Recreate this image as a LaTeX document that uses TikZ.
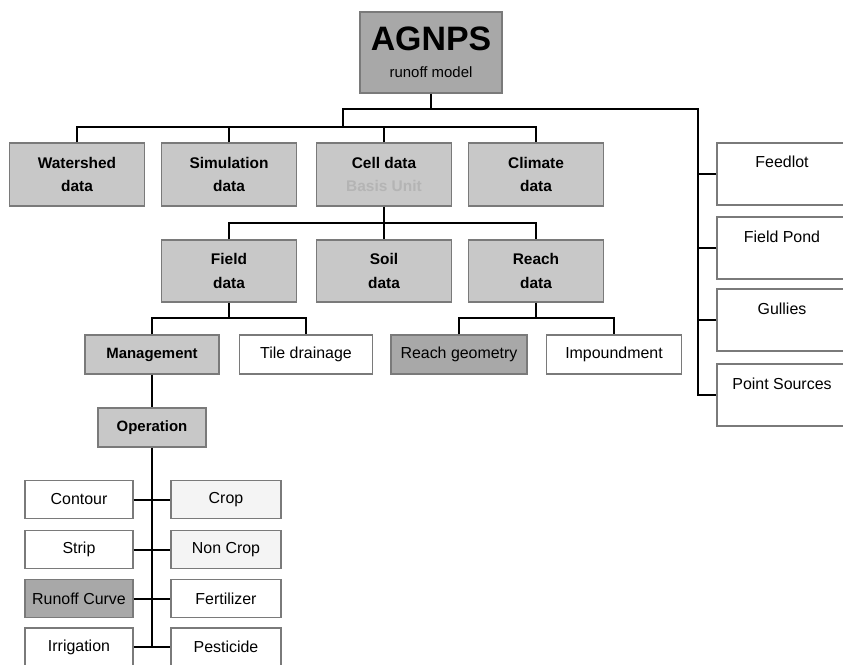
\documentclass[tikz,border=0pt]{standalone}
\usepackage{fontspec}
\setmainfont{Liberation Sans}

\definecolor{boxgray}{HTML}{C8C8C8}
\definecolor{boxdark}{HTML}{A8A8A8}
\definecolor{boxpale}{HTML}{F4F4F4}
\definecolor{edgegray}{HTML}{7A7A7A}
\definecolor{softtext}{HTML}{B4B4B4}

\tikzset{
  base/.style={draw=edgegray, line width=1.1bp, inner sep=0pt, align=center},
  databox/.style={base, fill=boxgray, minimum width=135bp, minimum height=63bp,
    font=\fontsize{15.5}{24}\selectfont\bfseries},
  itembox/.style={base, fill=white, minimum width=134bp, minimum height=39bp,
    font=\fontsize{16}{16}\selectfont},
  markbox/.style={itembox, fill=boxgray, font=\fontsize{15}{15}\selectfont\bfseries},
  leafbox/.style={base, fill=white, minimum width=108bp, minimum height=38bp,
    font=\fontsize{16}{16}\selectfont},
  sidebox/.style={base, fill=white, minimum width=130bp, text height=25bp,
    text depth=37bp, font=\fontsize{16}{16}\selectfont},
  link/.style={line width=2bp, black},
}

\begin{document}
\begin{tikzpicture}[x=1bp, y=-1bp]
    \useasboundingbox (0,0) rectangle (843,665);

    % Root of the model
    \node[base, fill=boxdark, minimum width=142bp, minimum height=81bp,
        font=\fontsize{15}{27}\selectfont] (agnps) at (431,52.5)
        {{\fontsize{34}{34}\selectfont\bfseries AGNPS}\\runoff model};

    % Input data groups
    \node[databox] (watershed) at (77,174.5) {Watershed\\data};
    \node[databox] (simulation) at (229,174.5) {Simulation\\data};
    \node[databox] (cell) at (384,174.5) {Cell data\\\textcolor{softtext}{Basis Unit}};
    \node[databox] (climate) at (536,174.5) {Climate\\data};

    % Cell level data
    \node[databox, minimum height=62bp] (field) at (229,271) {Field\\data};
    \node[databox, minimum height=62bp] (soil) at (384,271) {Soil\\data};
    \node[databox, minimum height=62bp] (reach) at (536,271) {Reach\\data};

    % Field and reach details
    \node[markbox] (management) at (152,354.5) {Management};
    \node[itembox, minimum width=133bp] (tile) at (306,354.5) {Tile drainage};
    \node[itembox, fill=boxdark, minimum width=136bp] (geometry) at (459,354.5) {Reach geometry};
    \node[itembox, minimum width=135bp] (impound) at (614,354.5) {Impoundment};

    \node[markbox, minimum width=108bp] (operation) at (152,427.5) {Operation};

    % Operation options, left and right of the spine
    \foreach \name/\txt/\y in {contour/Contour/499.5, strip/Strip/549.5, irrigation/Irrigation/647}
        \node[leafbox] (\name) at (79,\y) {\txt};
    \node[leafbox, fill=boxdark] (runoff) at (79,598.5) {Runoff Curve};
    \foreach \name/\txt/\fillc/\y in {crop/Crop/boxpale/499.5, noncrop/Non Crop/boxpale/549.5,
        fertilizer/Fertilizer/white/598.5, pesticide/Pesticide/white/647}
        \node[leafbox, fill=\fillc, minimum width=110bp] (\name) at (226,\y) {\txt};

    % Sources on the right
    \foreach \name/\txt/\y in {feedlot/Feedlot/174, pond/Field Pond/248,
        gullies/Gullies/320, point/Point Sources/395}
        \node[sidebox] (\name) at (782,\y) {\txt};

    % Tree connectors
    \coordinate (topbus) at (343,109);
    \coordinate (sidebus) at (698,109);
    \coordinate (rowbus) at (343,127);
    \coordinate (cellbus) at (384,223);
    \coordinate (fieldbus) at (229,318);
    \coordinate (reachbus) at (536,318);
    \coordinate (spine) at (152,647);

    \draw[link] (agnps.south) -- (agnps.south |- topbus);
    \draw[link] (rowbus) -- (topbus) -- (sidebus) |- (point.west);
    \draw[link] (watershed.north) -- (watershed.north |- rowbus)
        -- (climate.north |- rowbus) -- (climate.north);
    \foreach \n in {simulation, cell}
        \draw[link] (\n.north) -- (\n.north |- rowbus);
    \foreach \n in {feedlot, pond, gullies}
        \draw[link] (\n.west) -- (\n.west -| sidebus);

    \draw[link] (cell.south) -- (soil.north);
    \draw[link] (field.north) -- (field.north |- cellbus)
        -- (reach.north |- cellbus) -- (reach.north);

    \draw[link] (field.south) -- (fieldbus);
    \draw[link] (management.north) |- (fieldbus) -| (tile.north);
    \draw[link] (reach.south) -- (reachbus);
    \draw[link] (geometry.north) |- (reachbus) -| (impound.north);

    % Operation spine
    \draw[link] (management.south) -- (operation.north);
    \draw[link] (operation.south) -- (spine);
    \foreach \l/\r in {contour/crop, strip/noncrop, runoff/fertilizer, irrigation/pesticide}
        \draw[link] (\l.east) -- (\r.west);
\end{tikzpicture}
\end{document}
